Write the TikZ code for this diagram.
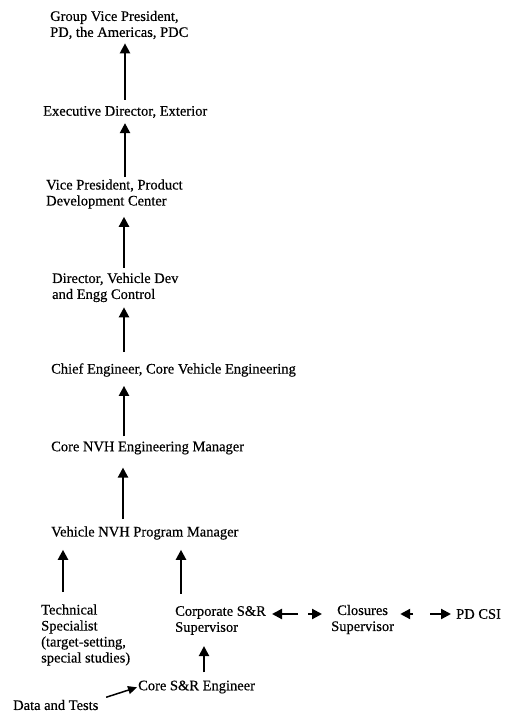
\documentclass[tikz,border=0pt]{standalone}
\usepackage{fontspec}
\setmainfont[FakeBold=0.4]{Liberation Serif}
\usetikzlibrary{arrows.meta}
\tikzset{
  lbl/.style={anchor=west, inner sep=0pt, align=left,
              font=\fontsize{14.5}{16}\selectfont},
  arr/.style={-{Triangle[width=10pt,length=10pt]}, line width=2.2pt},
}
\begin{document}
\begin{tikzpicture}[x=1pt,y=-1pt]
\useasboundingbox (0,0) rectangle (505,719);

% reporting chain
\node[lbl] (gvp)   at (50,25)   {Group Vice President,\\PD, the Americas, PDC};
\node[lbl] (exec)  at (43,112)  {Executive Director, Exterior};
\node[lbl] (vp)    at (46,194)  {Vice President, Product\\Development Center};
\node[lbl] (dir)   at (52,287.5){Director, Vehicle Dev\\and Engg Control};
\node[lbl] (chief) at (51,370)  {Chief Engineer, Core Vehicle Engineering};
\node[lbl] (core)  at (51,448)  {Core NVH Engineering Manager};
\node[lbl] (veh)   at (51,533)  {Vehicle NVH Program Manager};

% bottom level
\node[lbl] (tech)  at (41,635)  {Technical\\Specialist\\(target-setting,\\special studies)};
\node[lbl] (corp)  at (175,620.5){Corporate S\&R\\Supervisor};
\node[lbl, align=center] (clos) at (331,619.5){Closures\\Supervisor};
\node[lbl] (pdcsi) at (456,614) {PD CSI};
\node[lbl] (eng)   at (138,687) {Core S\&R Engineer};
\node[lbl] (data)  at (13,705)  {Data and Tests};

\coordinate (xa) at (125,0);
\coordinate (xb) at (124,0);
\coordinate (xc) at (123,0);
\coordinate (xt) at (63,0);
\coordinate (xs) at (181,0);
\coordinate (xe) at (204,0);
\coordinate (m1) at (303,614);
\coordinate (m2) at (421,614);

% vertical reporting arrows
\draw[arr, shorten <=6pt, shorten >=4pt]  (xa |- exec.north)  -- (xa |- gvp.south);
\draw[arr, shorten <=2pt, shorten >=5pt]  (xa |- vp.north)    -- (xa |- exec.south);
\draw[arr, shorten <=5pt, shorten >=8pt]  (xb |- dir.north)   -- (xb |- vp.south);
\draw[arr, shorten <=11pt, shorten >=5pt] (xb |- chief.north) -- (xb |- dir.south);
\draw[arr, shorten <=5pt, shorten >=9pt]  (xb |- core.north)  -- (xb |- chief.south);
\draw[arr, shorten <=7pt, shorten >=13pt] (xc |- veh.north)   -- (xc |- core.south);
\draw[arr, shorten <=12pt, shorten >=10pt](xt |- tech.north)  -- (xt |- veh.south);
\draw[arr, shorten <=12pt, shorten >=10pt](xs |- corp.north)  -- (xs |- veh.south);
\draw[arr, shorten <=8pt, shorten >=11pt] (xe |- eng.north)   -- (xe |- corp.south);

% two-way links
\draw[arr, shorten <=5pt, shorten >=6pt]  (m1) -- (corp.east |- m1);
\draw[arr, shorten <=5pt, shorten >=9pt]  (m1) -- (clos.west |- m1);
\draw[arr, shorten <=8pt, shorten >=6pt]  (m2) -- (clos.east |- m2);
\draw[arr, shorten <=9pt, shorten >=5pt]  (m2) -- (pdcsi.west |- m2);

% input
\draw[-{Triangle[width=8pt,length=9pt]}, line width=1.5pt, shorten <=8pt, shorten >=1pt]
  (data.north east) -- (eng.west);
\end{tikzpicture}
\end{document}
